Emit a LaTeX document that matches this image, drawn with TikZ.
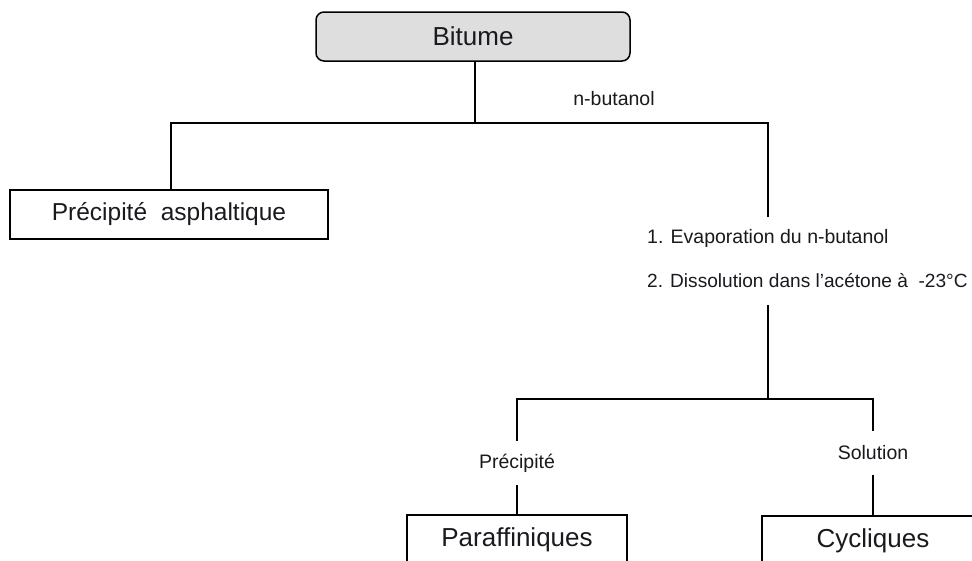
\documentclass[tikz,border=0pt]{standalone}
\usepackage{fontspec}
\setmainfont{Liberation Sans}
\definecolor{boxgray}{RGB}{222,222,222}
\definecolor{txt}{RGB}{25,25,30}
\begin{document}
\begin{tikzpicture}[x=1pt,y=-1pt,
  line/.style={line width=1.8pt, draw=black},
  box/.style={draw=black, line width=1.8pt, rectangle, inner sep=0pt, text=txt,
    font=\fontsize{26}{30}\selectfont},
  lab/.style={font=\fontsize{19.5}{23}\selectfont, inner sep=0pt, text=txt},
]
\useasboundingbox (0,0) rectangle (972,560);
% boxes
\node[box, fill=boxgray, rounded corners=8pt, line width=1.5pt,
      minimum width=314pt, minimum height=49pt] (bit) at (473,36.5) {Bitume};
\node[box, minimum width=318pt, minimum height=49pt,
      font=\fontsize{24.5}{28}\selectfont] (asph) at (169,214.5) {Précipité~~asphaltique};
\node[box, minimum width=220pt, minimum height=50pt] (paraf) at (517,540) {Paraffiniques};
\node[box, minimum width=222pt, minimum height=50pt] (cyc) at (873,541) {Cycliques};
% labels
\node[lab] (nbut) at (614,99) {n-butanol};
\node[lab, anchor=west] (step1) at (647,238) {1. Evaporation du n-butanol};
\node[lab, anchor=west, font=\fontsize{19.1}{23}\selectfont] (step2) at (647,281) {2. Dissolution dans l’acétone à~~-23°C};
\node[lab, minimum height=44pt] (prec) at (517,463) {Précipité};
\node[lab, minimum height=44pt] (sol) at (873,453) {Solution};
% junction coordinates
\coordinate (j1) at (475,123);
\coordinate (jl) at (171,123);
\coordinate (jr) at (768,123);
\coordinate (c1) at (768,217);
\coordinate (c2) at (768,305);
\coordinate (j2) at (768,399);
% connectors
\draw[line] (bit.south -| j1) -- (j1);
\draw[line] (asph.north -| jl) -- (jl) -- (jr) -- (c1);
\draw[line] (c2) -- (j2);
\draw[line] (prec) |- (j2) -| (sol);
\draw[line] (prec) -- (paraf);
\draw[line] (sol) -- (cyc);
\end{tikzpicture}
\end{document}
